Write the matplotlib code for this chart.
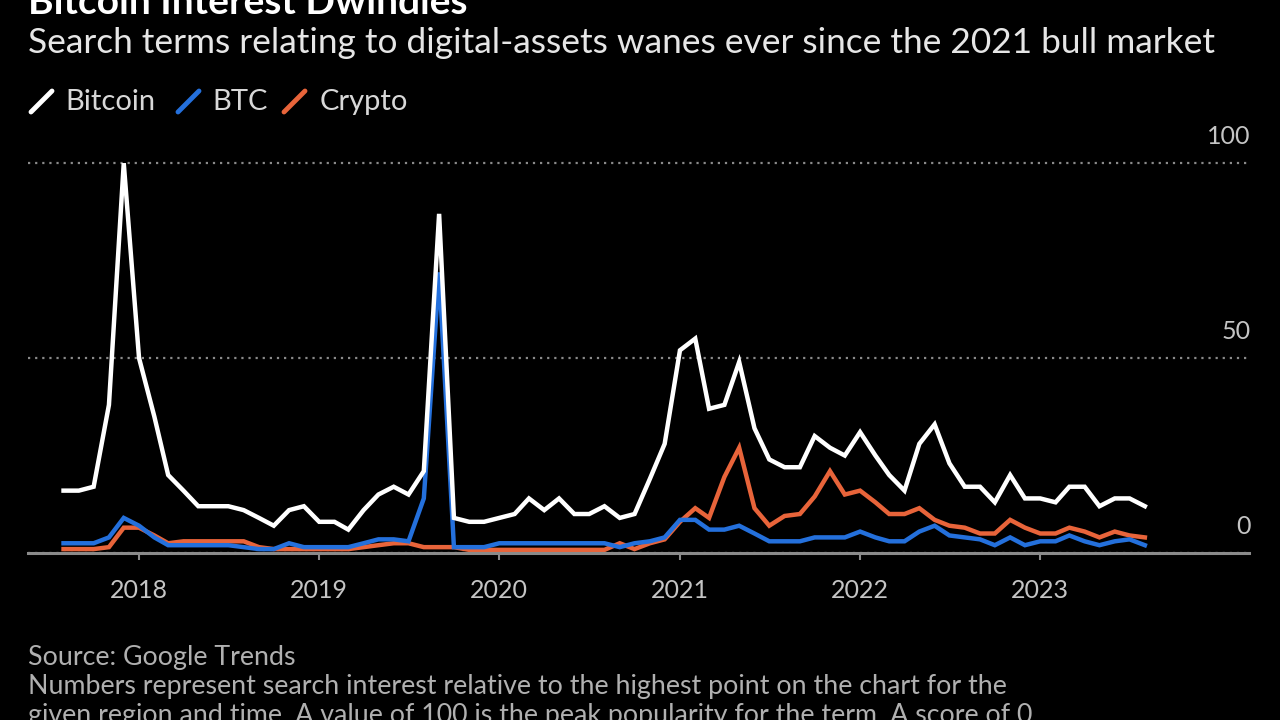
import pandas as pd
import matplotlib.pyplot as plt
from matplotlib.lines import Line2D

plt.rcParams['font.family'] = ['Lato', 'DejaVu Sans']

# monthly Google Trends values, Aug 2017 - Aug 2023
months = pd.date_range('2017-08-01', '2023-08-01', freq='MS')

bitcoin = [16, 16, 17, 38, 100, 50, 35, 20, 16, 12, 12, 12, 11, 9, 7, 11, 12, 8, 8, 6,
           11, 15, 17, 15, 21, 87, 9, 8, 8, 9, 10, 14, 11, 14, 10, 10, 12, 9, 10, 19,
           28, 52, 55, 37, 38, 49, 32, 24, 22, 22, 30, 27, 25, 31, 25, 20, 16, 28, 33, 23,
           17, 17, 13, 20, 14, 14, 13, 17, 17, 12, 14, 14, 12]
btc = [2.5, 2.5, 2.5, 4, 9, 7, 4, 2, 2, 2, 2, 2, 1.5, 1, 1, 2.5, 1.5, 1.5, 1.5, 1.5,
       2.5, 3.5, 3.5, 3, 14, 72, 1.5, 1.5, 1.5, 2.5, 2.5, 2.5, 2.5, 2.5, 2.5, 2.5, 2.5, 1.5, 2.5, 3,
       4, 8.5, 8.5, 6, 6, 7, 5, 3, 3, 3, 4, 4, 4, 5.5, 4, 3, 3, 5.5, 7, 4.5,
       4, 3.5, 2, 4, 2, 3, 3, 4.5, 3, 2, 3, 3.5, 2]
crypto = [1, 1, 1, 1.5, 6.5, 6.5, 4.5, 2.5, 3, 3, 3, 3, 3, 1.5, 1, 1, 1, 1, 1, 1,
          1.5, 2, 2.5, 2.5, 1.5, 1.5, 1.5, 0.8, 0.8, 0.8, 0.8, 0.8, 0.8, 0.8, 0.8, 0.8, 0.8, 2.5, 1, 2.5,
          3.5, 8, 11.5, 9, 19.5, 27, 11.5, 7, 9.5, 10, 14.5, 21, 15, 16, 13, 10, 10, 11.5, 8.5, 7,
          6.5, 5, 5, 8.5, 6.5, 5, 5, 6.5, 5.5, 4, 5.5, 4.5, 4]

series_names = ['Bitcoin', 'BTC', 'Crypto']
series_colors = ['#ffffff', '#2470dc', '#e8643a']

year_ticks = pd.to_datetime(['2018-01-01', '2019-01-01', '2020-01-01',
                             '2021-01-01', '2022-01-01', '2023-01-01'])
year_labels = ['2018', '2019', '2020', '2021', '2022', '2023']
y_ticks = [0, 50, 100]

W, H = 1280, 720
fig = plt.figure(figsize=(12.8, 7.2), dpi=100, facecolor='black')
ax = fig.add_axes([28 / W, (H - 553) / H, (1249 - 28) / W, 421 / H])
ax.set_facecolor('black')

# draw order: crypto under btc under bitcoin
for vals, col in [(crypto, series_colors[2]), (btc, series_colors[1]), (bitcoin, series_colors[0])]:
    ax.plot(months, vals, color=col, lw=3.2, solid_joinstyle='miter', clip_on=False)

ax.set_xlim(pd.Timestamp('2017-05-21'), pd.Timestamp('2024-02-28'))
ax.set_ylim(0, 108)

ax.set_yticks(y_ticks)
ax.yaxis.grid(True, color='#8a8a8a', ls=(0, (1, 2.2)), lw=1.6)
ax.set_axisbelow(True)
ax.tick_params(axis='y', length=0, labelleft=False, labelright=False)
for v in y_ticks:
    ax.annotate(str(v), xy=(1, v), xycoords=('axes fraction', 'data'),
                xytext=(1, 11), textcoords='offset points',
                ha='right', va='bottom', color='#c4c4c4', fontsize=18)

ax.set_xticks(year_ticks)
ax.set_xticklabels(year_labels)
ax.tick_params(axis='x', length=5, width=1.5, color='#8a8a8a', pad=14,
               labelcolor='#c4c4c4', labelsize=18)

for s in ['top', 'left', 'right']:
    ax.spines[s].set_visible(False)
ax.spines['bottom'].set_color('#8a8a8a')
ax.spines['bottom'].set_linewidth(2.2)

# titles
fig.text(28 / W, 1 - 14 / H, 'Bitcoin Interest Dwindles', color='white',
         fontsize=28, fontweight='bold', va='baseline')
fig.text(28 / W, 1 - 53 / H,
         'Search terms relating to digital-assets wanes ever since the 2021 bull market',
         color='#e6e6e6', fontsize=25.4, va='baseline')

# legend with slanted swatches
legend_x = [(31, 65), (178, 212), (284, 320)]
for (mx, tx), name, col in zip(legend_x, series_names, series_colors):
    fig.add_artist(Line2D([mx / W, (mx + 21) / W], [1 - 112 / H, 1 - 91 / H],
                          color=col, lw=3.5, solid_capstyle='round'))
    fig.text(tx / W, 1 - 110 / H, name, color='#d8d8d8', fontsize=21, va='baseline')

# footer
footer = ['Source: Google Trends',
          'Numbers represent search interest relative to the highest point on the chart for the',
          'given region and time. A value of 100 is the peak popularity for the term. A score of 0']
for k, line in enumerate(footer):
    fig.text(28 / W, 1 - (665 + 29 * k) / H, line, color='#b0b0b0', fontsize=19.3, va='baseline')

fig.savefig('out.png', dpi=100, facecolor='black')
